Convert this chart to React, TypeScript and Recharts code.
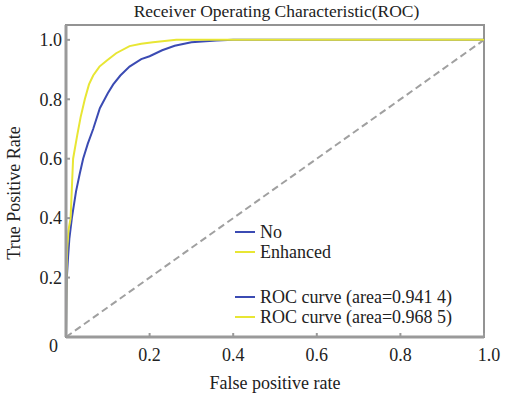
import React from 'react';
import { LineChart, Line, XAxis, YAxis, Label, ReferenceArea } from 'recharts';

const BLUE = '#3b4bb3';
const YELLOW = '#e8e634';
const FONT = '"Liberation Serif", "Times New Roman", serif';

// ROC points: [fpr, tpr]
const noCurve: [number, number][] = [
  [0, 0], [0.001, 0.12], [0.002, 0.2], [0.005, 0.27], [0.008, 0.33], [0.014, 0.4],
  [0.024, 0.49], [0.033, 0.55], [0.041, 0.6], [0.052, 0.65], [0.065, 0.7],
  [0.081, 0.77], [0.1, 0.82], [0.113, 0.85], [0.13, 0.88], [0.152, 0.91],
  [0.18, 0.935], [0.2, 0.945], [0.23, 0.965], [0.26, 0.98], [0.3, 0.992],
  [0.36, 0.998], [0.4, 1.0], [1.0, 1.0],
];

const enhancedCurve: [number, number][] = [
  [0, 0], [0.001, 0.2], [0.003, 0.3], [0.006, 0.36], [0.011, 0.4], [0.014, 0.5],
  [0.017, 0.6], [0.027, 0.68], [0.035, 0.74], [0.045, 0.8], [0.055, 0.85],
  [0.065, 0.88], [0.08, 0.91], [0.097, 0.93], [0.12, 0.955], [0.152, 0.979],
  [0.18, 0.987], [0.208, 0.992], [0.264, 1.0], [1.0, 1.0],
];

const chanceLine: [number, number][] = [[0, 0], [1, 1]];

const xTicks = [0, 0.2, 0.4, 0.6, 0.8, 1.0];
const yTicks = [0, 0.2, 0.4, 0.6, 0.8, 1.0];

const legendTop = ['No', 'Enhanced'];
const legendBottom = ['ROC curve (area=0.941 4)', 'ROC curve (area=0.968 5)'];

const toRows = (pts: [number, number][]) => pts.map(([x, y]) => ({ x, y }));

const fmt = (v: number) => (v === 0 ? '0' : v.toFixed(1));

const YTick = (props: any) => {
  const { x, y, payload } = props;
  const zero = payload.value === 0;
  return (
    <text x={zero ? x - 4 : x} y={zero ? y + 9 : y} dy="0.35em" textAnchor="end" fill="#222" fontSize={18} fontFamily={FONT}>
      {fmt(payload.value)}
    </text>
  );
};

const XTick = (props: any) => {
  const { x, y, payload } = props;
  if (payload.value === 0) return null;
  return (
    <text x={payload.value === 1 ? x + 5 : x} y={y} dy="0.71em" textAnchor="middle" fill="#222" fontSize={18} fontFamily={FONT}>
      {fmt(payload.value)}
    </text>
  );
};

const LegendBox = () => {
  const colors = [BLUE, YELLOW];
  const row = (label: string, i: number) => (
    <div key={label} style={{ display: 'flex', alignItems: 'center', height: 20 }}>
      <span style={{ display: 'inline-block', width: 20, height: 2, background: colors[i], marginRight: 5 }} />
      <span>{label}</span>
    </div>
  );
  return (
    <div style={{ position: 'absolute', left: 235, top: 222, fontFamily: FONT, fontSize: 18, color: '#222', lineHeight: '20px', whiteSpace: 'nowrap' }}>
      {legendTop.map(row)}
      <div style={{ height: 25 }} />
      {legendBottom.map(row)}
    </div>
  );
};

export default function App() {
  return (
    <div style={{ position: 'absolute', left: 0, top: 0, width: 509, height: 393, background: '#fff' }}>
      <div style={{ position: 'absolute', left: 0, top: 0, width: 509, paddingLeft: 44, boxSizing: 'border-box', textAlign: 'center', fontFamily: FONT, fontSize: 17.5, lineHeight: '22px', color: '#222' }}>
        Receiver Operating Characteristic(ROC)
      </div>
      <LineChart width={509} height={393} margin={{ top: 25, right: 25, left: 0, bottom: 0 }}>
        <XAxis xAxisId="b" dataKey="x" type="number" domain={[0, 1]} ticks={xTicks} allowDuplicatedCategory={false}
          height={56} axisLine={{ stroke: '#9a9a9a', strokeWidth: 3 }} tickLine={{ stroke: '#9a9a9a', strokeWidth: 2 }}
          tickSize={-4} tickMargin={15} tick={<XTick />}>
          <Label value="False positive rate" position="insideBottom" offset={4} style={{ fontFamily: FONT, fontSize: 18, fill: '#222' }} />
        </XAxis>
        <YAxis yAxisId="l" type="number" domain={[0, 1.05]} ticks={yTicks} width={66}
          axisLine={{ stroke: '#9a9a9a', strokeWidth: 3 }} tickLine={{ stroke: '#9a9a9a', strokeWidth: 2 }}
          tickSize={-4} tickMargin={8} tick={<YTick />}>
          <Label value="True Positive Rate" angle={-90} position="insideLeft" offset={14} dy={12} style={{ textAnchor: 'middle', fontFamily: FONT, fontSize: 18, fill: '#222' }} />
        </YAxis>
        <ReferenceArea xAxisId="b" yAxisId="l" x1={0} x2={1} y1={0} y2={1.05} stroke="#939393" strokeWidth={2}
          fill="none" fillOpacity={0} ifOverflow="visible" />
        <Line xAxisId="b" yAxisId="l" data={toRows(chanceLine)} dataKey="y" stroke="#a0a0a0" strokeWidth={2}
          strokeDasharray="7 4" dot={false} isAnimationActive={false} />
        <Line xAxisId="b" yAxisId="l" data={toRows(noCurve)} dataKey="y" name="No" stroke={BLUE} strokeWidth={2}
          dot={false} type="linear" isAnimationActive={false} />
        <Line xAxisId="b" yAxisId="l" data={toRows(enhancedCurve)} dataKey="y" name="Enhanced" stroke={YELLOW} strokeWidth={2}
          dot={false} type="linear" isAnimationActive={false} />
      </LineChart>
      <LegendBox />
    </div>
  );
}
